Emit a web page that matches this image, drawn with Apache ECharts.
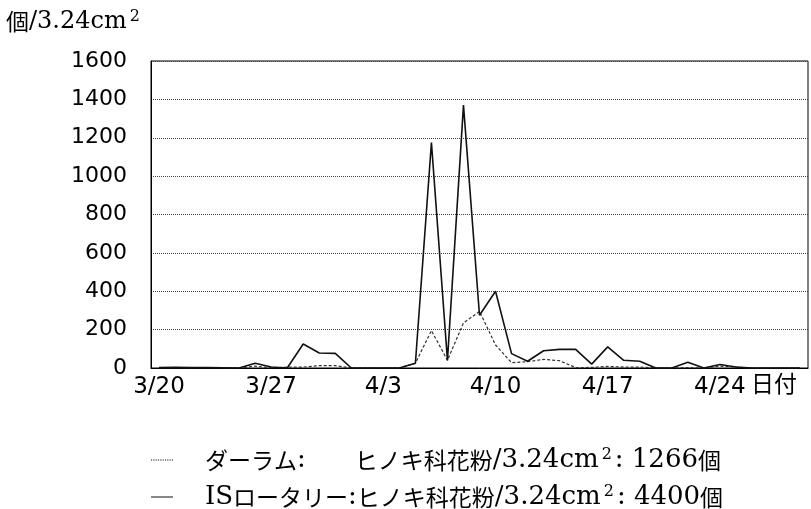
<!DOCTYPE html>
<html>
<head>
<meta charset="utf-8">
<script src="https://cdn.jsdelivr.net/npm/echarts@6/dist/echarts.min.js"></script>
<style>html,body{margin:0;padding:0;background:#fff}#c{width:811px;height:509px}</style>
</head>
<body>
<div id="c"></div>
<script>
var dates = ['3/20','3/21','3/22','3/23','3/24','3/25','3/26','3/27','3/28','3/29','3/30','3/31',
  '4/1','4/2','4/3','4/4','4/5','4/6','4/7','4/8','4/9','4/10','4/11','4/12','4/13','4/14','4/15',
  '4/16','4/17','4/18','4/19','4/20','4/21','4/22','4/23','4/24','4/25','4/26','4/27','4/28','4/29'];
var durham = [0,0,0,0,0,0,10,0,5,5,12,12,0,0,0,0,25,195,40,235,295,120,28,33,45,38,2,3,8,5,5,0,0,2,0,10,5,0,0,0,0];
var isRotary = [2,3,2,2,1,0,25,5,0,125,78,76,0,0,0,0,25,1175,40,1370,275,400,75,35,90,97,97,20,110,40,35,0,0,30,0,18,5,0,0,0,0];
var yTicks = {min: 0, max: 1600, interval: 200};
var nameDurham = 'ダーラム';
var nameIS = 'ISロータリー';
var totals = {'ダーラム': '1266', 'ISロータリー': '4400'};

var JP = "'Noto Sans CJK JP'";
var SERIF = "'DejaVu Serif'";
var SANS = "'DejaVu Sans'";
var dottedIcon = 'path://M0,0h1.2v1h-1.2z M2.4,0h1.2v1h-1.2z M4.8,0h1.2v1h-1.2z M7.2,0h1.2v1h-1.2z M9.6,0h1.2v1h-1.2z M12,0h1.2v1h-1.2z M14.4,0h1.2v1h-1.2z M16.8,0h1.2v1h-1.2z M19.2,0h1.2v1h-1.2z M21.6,0h1.2v1h-1.2z';
var solidIcon = 'path://M0,0h22v1h-22z';

var legendRich = {
  j: {fontSize: 23, fontFamily: JP, color: '#000'},
  j0: {fontSize: 23, fontFamily: JP, color: '#000', padding: [0,0,0,27]},
  l: {fontSize: 26, fontFamily: SERIF, color: '#000'},
  l0: {fontSize: 26, fontFamily: SERIF, color: '#000', padding: [0,0,0,27]},
  c1: {fontSize: 26, fontFamily: SERIF, color: '#000', padding: [0,49,0,0]},
  s: {fontSize: 16, fontFamily: SERIF, color: '#000', verticalAlign: 'top', padding: [0,3,9,3]}
};

function legendFor(name, top, icon, h) {
  return {
    left: 151, top: top, padding: 0,
    itemWidth: 22, itemHeight: h,
    data: [{name: name, icon: icon}],
    itemStyle: {color: '#111', borderWidth: 0},
    formatter: function (n) {
      var head = n === nameDurham
        ? '{j0|ダーラム}{c1|:}'
        : '{l0|IS}{j|ロータリー}{l|:}';
      return head + '{j|ヒノキ科花粉}{l|/3.24cm}{s|2}{l|: ' + totals[n] + '}{j|個}';
    },
    textStyle: {rich: legendRich}
  };
}

var chart = echarts.init(document.getElementById('c'));
chart.setOption({
  animation: false,
  backgroundColor: '#fff',
  title: {
    text: '{j|個}{a|/3.24cm}{s|2}',
    left: 6, top: 9, padding: 0,
    textStyle: {
      rich: {
        j: {fontSize: 23, fontFamily: JP, color: '#000', fontWeight: 'normal'},
        a: {fontSize: 24, fontFamily: SERIF, color: '#000', fontWeight: 'normal'},
        s: {fontSize: 16, fontFamily: SERIF, color: '#000', fontWeight: 'normal', verticalAlign: 'top', padding: [0,0,9,3]}
      }
    }
  },
  grid: {left: 151, right: 3, top: 61, bottom: 141, show: true, borderColor: '#000', borderWidth: 1},
  legend: [
    legendFor(nameDurham, 447, dottedIcon, 1.2),
    legendFor(nameIS, 484, solidIcon, 1.5)
  ],
  xAxis: {
    type: 'category',
    data: dates,
    boundaryGap: true,
    axisLine: {lineStyle: {color: '#000', width: 1}},
    axisTick: {show: false},
    axisLabel: {interval: 6, margin: 8, fontSize: 23, color: '#000', fontFamily: SANS},
    splitLine: {show: false}
  },
  yAxis: {
    type: 'value',
    min: yTicks.min, max: yTicks.max, interval: yTicks.interval,
    axisLine: {show: true, lineStyle: {color: '#000', width: 1}},
    axisTick: {show: false},
    axisLabel: {fontSize: 22, margin: 24, color: '#000', fontFamily: SANS,
      formatter: function (v) { return String(v); }},
    splitLine: {show: true, lineStyle: {color: '#444', type: 'dotted', width: 1}}
  },
  graphic: [{
    type: 'text', left: 751, top: 372,
    style: {text: '日付', fontSize: 23, fontFamily: JP, fill: '#000'}
  }],
  series: [
    {name: nameDurham, type: 'line', data: durham, symbol: 'none', smooth: false,
     lineStyle: {color: '#333', width: 1.2, type: [3, 2]}, itemStyle: {color: '#333'}, z: 2},
    {name: nameIS, type: 'line', data: isRotary, symbol: 'none', smooth: false,
     lineStyle: {color: '#111', width: 1.6, type: 'solid'}, itemStyle: {color: '#111'}, z: 3}
  ]
});
</script>
</body>
</html>
